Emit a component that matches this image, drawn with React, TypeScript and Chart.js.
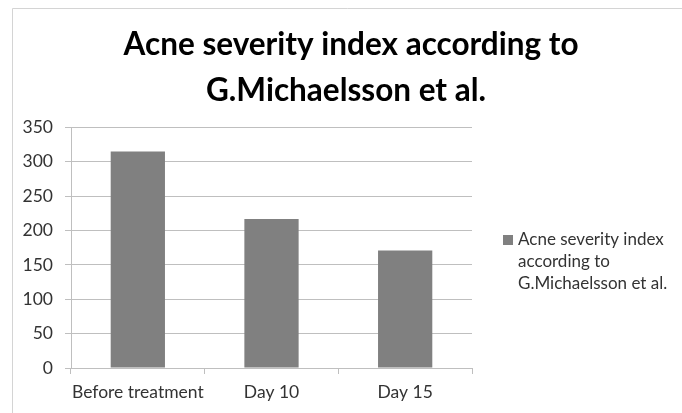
import React, { useEffect, useRef } from "react";
import { Chart, registerables } from "chart.js";

Chart.register(...registerables);

const categories = ["Before treatment", "Day 10", "Day 15"];
const seriesLabel = "Acne severity index according to G.Michaelsson et al.";
const seriesValues = [315, 217, 171];
const titleLines = ["Acne severity index according to", "G.Michaelsson et al."];
const legendLines = ["Acne severity index", "according to", "G.Michaelsson et al."];

const FONT = "Lato, 'Open Sans', sans-serif";

const decorPlugin = {
  id: "decor",
  beforeDraw(chart: any) {
    const ctx = chart.ctx;
    ctx.save();
    ctx.fillStyle = "#ffffff";
    ctx.fillRect(0, 0, chart.width, chart.height);
    ctx.strokeStyle = "#d4d4d4";
    ctx.lineWidth = 1;
    ctx.beginPath();
    ctx.moveTo(12.5, chart.height);
    ctx.lineTo(12.5, 8.5);
    ctx.lineTo(chart.width, 8.5);
    ctx.stroke();
    ctx.restore();
  },
  afterDraw(chart: any) {
    const ctx = chart.ctx;
    ctx.save();
    // title
    ctx.fillStyle = "#000000";
    ctx.font = `bold 31.5px ${FONT}`;
    ctx.textAlign = "center";
    ctx.textBaseline = "alphabetic";
    ctx.fillText(titleLines[0], 351, 55);
    ctx.fillText(titleLines[1], 346, 101);
    // legend
    const ds = chart.data.datasets[0];
    ctx.fillStyle = ds.backgroundColor;
    ctx.fillRect(503, 235, 10, 10);
    ctx.fillStyle = "#333333";
    ctx.font = `17px ${FONT}`;
    ctx.textAlign = "left";
    ctx.textBaseline = "middle";
    legendLines.forEach((l, i) => ctx.fillText(l, 518, 240 + i * 22));
    ctx.restore();
  },
};

export default function App() {
  const ref = useRef<HTMLCanvasElement | null>(null);
  useEffect(() => {
    if (!ref.current) return;
    const chart = new Chart(ref.current, {
      type: "bar",
      data: {
        labels: categories,
        datasets: [
          {
            label: seriesLabel,
            data: seriesValues,
            backgroundColor: "#808080",
            barPercentage: 0.406,
            categoryPercentage: 1,
          },
        ],
      },
      options: {
        responsive: false,
        animation: false,
        devicePixelRatio: 1,
        layout: { padding: { left: 12, right: 210, top: 127.5, bottom: 0 } },
        plugins: {
          legend: { display: false },
          title: { display: false },
          tooltip: { enabled: false },
        },
        scales: {
          x: {
            afterFit: (s: any) => {
              s.height = 45;
            },
            grid: {
              drawOnChartArea: false,
              drawTicks: true,
              tickLength: 6,
              color: "#bfbfbf",
            },
            border: { display: true, color: "#bfbfbf" },
            ticks: {
              color: "#333333",
              font: { family: FONT, size: 17.5 },
              padding: 8,
              maxRotation: 0,
              autoSkip: false,
            },
          },
          y: {
            min: 0,
            max: 350,
            afterFit: (s: any) => {
              s.width = 59;
            },
            grid: { color: "#bfbfbf", tickLength: 6 },
            border: { display: true, color: "#bfbfbf" },
            ticks: {
              stepSize: 50,
              color: "#333333",
              font: { family: FONT, size: 17.5 },
              padding: 12,
            },
          },
        },
      },
      plugins: [decorPlugin],
    });
    return () => chart.destroy();
  }, []);
  return (
    <div style={{ position: "absolute", left: 0, top: 0, width: 682, height: 413 }}>
      <canvas ref={ref} width={682} height={413} />
    </div>
  );
}
